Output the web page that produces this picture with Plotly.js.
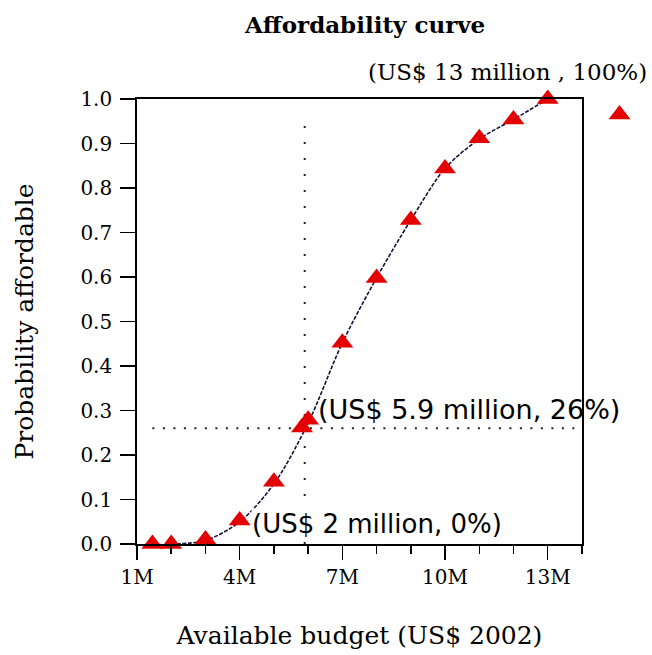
<!DOCTYPE html>
<html>
<head>
<meta charset="utf-8">
<script src="https://cdn.plot.ly/plotly-3.0.1.min.js"></script>
<style>
  html, body { margin: 0; padding: 0; background: #ffffff; }
  #chart { width: 652px; height: 655px; }
</style>
</head>
<body>
<div id="chart"></div>
<script>
// ---- Data (budget in US$ millions, probability affordable) ----
const budgetM = [1.45, 2, 3, 4, 5, 5.82, 6.0, 7, 8, 9, 10, 11, 12, 13];
const probAffordable = [0, 0, 0.01, 0.053, 0.14, 0.262, 0.279, 0.452, 0.598, 0.728, 0.844, 0.912, 0.954, 1.0];

// fitted affordability curve
const curveBudgetM = [2, 3, 4, 5, 6, 7, 8, 9, 10, 11, 12, 13];
const curveProb = [0, 0.008, 0.05, 0.135, 0.272, 0.452, 0.598, 0.728, 0.844, 0.91, 0.954, 1.0];

// lone symbol drawn outside the plot box (legend-like marker)
const keyBudgetM = [15.1];
const keyProb = [0.965];

// highlighted reading
const markBudgetM = 5.9;
const markProb = 0.26;

// ticks
const xTickVals = [1, 4, 7, 10, 13];
const xTickText = ["1M", "4M", "7M", "10M", "13M"];
const yTickVals = [0, 0.1, 0.2, 0.3, 0.4, 0.5, 0.6, 0.7, 0.8, 0.9, 1.0];
const yTickText = ["0.0", "0.1", "0.2", "0.3", "0.4", "0.5", "0.6", "0.7", "0.8", "0.9", "1.0"];

const serif = "DejaVu Serif, Liberation Serif, serif";
const sans = "DejaVu Sans, Liberation Sans, sans-serif";
const red = "#e40000";

const traces = [
  {
    x: curveBudgetM, y: curveProb, type: "scatter", mode: "lines",
    line: { color: "#14143c", width: 1.6, shape: "spline", smoothing: 0.9, dash: "4px,1.5px" },
    hoverinfo: "skip", cliponaxis: false, showlegend: false
  },
  {
    x: budgetM, y: probAffordable, type: "scatter", mode: "markers",
    marker: { symbol: "triangle-up", size: 19, color: red, line: { width: 0 } },
    cliponaxis: false, showlegend: false
  },
  {
    x: keyBudgetM, y: keyProb, type: "scatter", mode: "markers", xaxis: "x2", yaxis: "y2",
    marker: { symbol: "triangle-up", size: 19, color: red, line: { width: 0 } },
    cliponaxis: false, showlegend: false
  }
];

const layout = {
  width: 652, height: 655,
  margin: { l: 137, r: 0, t: 99, b: 110.5, pad: 0 },
  paper_bgcolor: "#ffffff", plot_bgcolor: "#ffffff",
  font: { family: serif, color: "#000000" },
  title: {
    text: "<b>Affordability curve</b>",
    font: { family: serif, size: 23, color: "#000000" },
    x: 0.56, xanchor: "center", y: 0.962, yanchor: "middle"
  },
  xaxis: {
    domain: [0, 0.864],
    range: [1, 14],
    tickmode: "array", tickvals: xTickVals, ticktext: xTickText,
    ticks: "outside", ticklen: 14, tickwidth: 1.5, tickcolor: "#000",
    minor: { tickmode: "linear", tick0: 1, dtick: 1, ticks: "outside", ticklen: 8, tickwidth: 1.5, tickcolor: "#000", showgrid: false },
    showline: true, mirror: true, linecolor: "#000", linewidth: 1.8,
    showgrid: false, zeroline: false,
    tickfont: { family: serif, size: 20, color: "#000" },
    title: { text: "Available budget (US$ 2002)", font: { family: serif, size: 25, color: "#000" }, standoff: 39 },
    fixedrange: true
  },
  yaxis: {
    range: [0, 1],
    tickmode: "array", tickvals: yTickVals, ticktext: yTickText,
    ticks: "outside", ticklen: 15, tickwidth: 1.5, tickcolor: "#000",
    showline: true, mirror: true, linecolor: "#000", linewidth: 1.8,
    showgrid: false, zeroline: false,
    tickfont: { family: serif, size: 20, color: "#000" },
    ticklabelstandoff: 4,
    title: { text: "Probability affordable", font: { family: serif, size: 25, color: "#000" }, standoff: 40 },
    fixedrange: true
  },
  xaxis2: { domain: [0.87, 1], anchor: "y2", range: [14.09, 16.05], visible: false, fixedrange: true },
  yaxis2: { domain: [0, 1], anchor: "x2", range: [0, 1], visible: false, fixedrange: true },
  shapes: [
    { type: "line", xref: "x", yref: "y", x0: markBudgetM, x1: markBudgetM, y0: 0, y1: 0.955,
      line: { color: "#222", width: 2, dash: "2px,14px" }, layer: "below" },
    { type: "line", xref: "x", yref: "y", x0: 1.45, x1: 13.8, y0: markProb, y1: markProb,
      line: { color: "#222", width: 2, dash: "2px,8.5px" }, layer: "below" }
  ],
  annotations: [
    { xref: "x", yref: "y", x: 13, y: 1, text: "(US$ 13 million , 100%)", showarrow: false,
      xanchor: "center", yanchor: "middle", xshift: -40, yshift: 27,
      font: { family: serif, size: 23, color: "#000" } },
    { xref: "x", yref: "y", x: markBudgetM, y: markProb, text: "(US$ 5.9 million, 26%)", showarrow: false,
      xanchor: "left", yanchor: "middle", xshift: 11, yshift: 19,
      font: { family: sans, size: 27, color: "#000" } },
    { xref: "x", yref: "y", x: 4, y: 0.05, text: "(US$ 2 million, 0%)", showarrow: false,
      xanchor: "left", yanchor: "middle", xshift: 11, yshift: -2, bgcolor: "#ffffff", borderpad: 0,
      font: { family: sans, size: 26, color: "#000" } }
  ]
};

Plotly.newPlot("chart", traces, layout, { displayModeBar: false, staticPlot: true });
</script>
</body>
</html>
